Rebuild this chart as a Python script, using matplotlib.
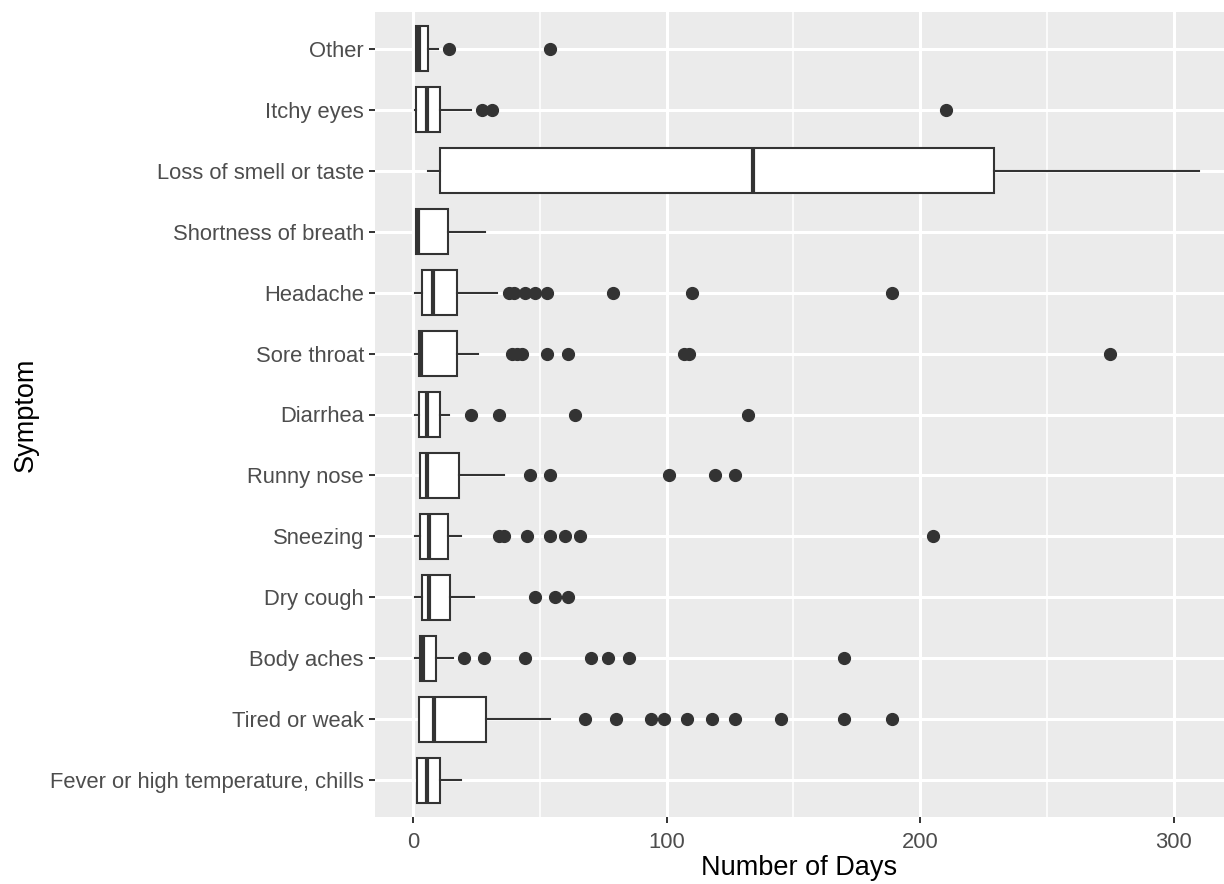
import matplotlib
matplotlib.use("Agg")
import matplotlib.pyplot as plt

plt.rcParams["font.family"] = ["Liberation Sans", "DejaVu Sans"]

# categories from bottom to top, as drawn
symptoms = [
    "Fever or high temperature, chills",
    "Tired or weak",
    "Body aches",
    "Dry cough",
    "Sneezing",
    "Runny nose",
    "Diarrhea",
    "Sore throat",
    "Headache",
    "Shortness of breath",
    "Loss of smell or taste",
    "Itchy eyes",
    "Other",
]

# box statistics (days)
whisker_low = [1.7, 2.3, 0.6, 0.6, 0.6, 2.6, 0.6, 0.6, 0.6, 1.3, 6.0, 0.6, 1.3]
q1 = [1.7, 2.3, 2.6, 3.5, 2.9, 2.6, 2.3, 2.3, 3.5, 1.3, 10.6, 1.3, 1.3]
median = [5.6, 8.2, 3.9, 6.2, 6.2, 5.5, 5.5, 3.2, 8.0, 2.0, 134.0, 5.5, 2.5]
q3 = [10.8, 28.6, 9.1, 14.7, 13.9, 18.2, 10.6, 17.3, 17.5, 13.6, 229.0, 10.6, 5.8]
whisker_high = [18.8, 53.9, 15.6, 24.0, 18.8, 36.0, 14.0, 25.7, 33.0, 28.3, 310.0, 22.7, 9.7]

outliers = [
    [],
    [68, 80, 94, 99, 108, 118, 127, 145, 170, 189],
    [20, 28, 44, 70, 77, 85, 170],
    [48, 56, 61],
    [34, 36, 45, 54, 60, 66, 205],
    [46, 54, 101, 119, 127],
    [23, 34, 64, 132],
    [39, 41, 43, 53, 61, 107, 109, 275],
    [38, 40, 44, 48, 53, 79, 110, 189],
    [],
    [],
    [27, 31, 210],
    [14, 54],
]

x_ticks = [0, 100, 200, 300]

stats = []
for i, name in enumerate(symptoms):
    stats.append({
        "label": name,
        "whislo": whisker_low[i],
        "q1": q1[i],
        "med": median[i],
        "q3": q3[i],
        "whishi": whisker_high[i],
        "fliers": outliers[i],
    })

fig = plt.figure(figsize=(12.24, 8.84), dpi=100)
ax = fig.add_axes([375 / 1224, 67 / 884, 849 / 1224, 805 / 884])
ax.set_facecolor("#EBEBEB")

edge = "#333333"
ax.bxp(
    stats,
    positions=range(1, len(symptoms) + 1),
    vert=False,
    widths=0.75,
    patch_artist=True,
    showcaps=False,
    boxprops=dict(facecolor="white", edgecolor=edge, linewidth=1.5),
    medianprops=dict(color=edge, linewidth=3.0, solid_capstyle="butt"),
    whiskerprops=dict(color=edge, linewidth=1.5),
    flierprops=dict(marker="o", markerfacecolor=edge, markeredgecolor=edge,
                    markersize=8.5, linestyle="none"),
    zorder=3,
)

ax.set_xlim(-15, 319.8)
ax.set_ylim(0.4, len(symptoms) + 0.6)
ax.set_xticks(x_ticks)
ax.set_xticks([50, 150, 250], minor=True)
ax.set_yticks(range(1, len(symptoms) + 1))
ax.set_yticklabels(symptoms)

ax.grid(True, which="major", color="white", linewidth=2.2, zorder=0)
ax.grid(True, which="minor", axis="x", color="white", linewidth=1.1, zorder=0)
ax.set_axisbelow(True)
for s in ax.spines.values():
    s.set_visible(False)

ax.tick_params(axis="both", which="major", colors=edge, labelcolor="#4D4D4D",
               labelsize=15.8, length=4.5, width=1.4, pad=3.5)
ax.tick_params(axis="x", which="major", pad=6)
ax.tick_params(axis="x", which="minor", length=0)

ax.set_xlabel("Number of Days", fontsize=19.5, color="black", labelpad=2)
ax.set_ylabel("Symptom", fontsize=19.5, color="black", labelpad=8)

fig.savefig("out.png", dpi=100)
